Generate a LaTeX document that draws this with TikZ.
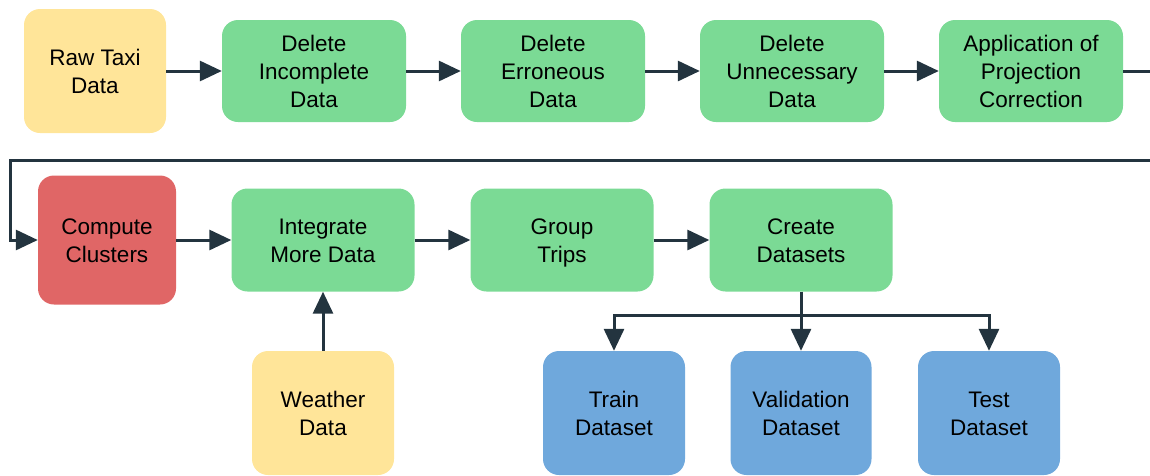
\documentclass[tikz,border=0pt]{standalone}
\usepackage{fontspec}
\setmainfont{Liberation Sans}
\usetikzlibrary{arrows.meta}
\definecolor{cgreen}{HTML}{7BDA95}
\definecolor{cyellow}{HTML}{FFE599}
\definecolor{cred}{HTML}{E06666}
\definecolor{cblue}{HTML}{6FA8DC}
\definecolor{cline}{HTML}{23343F}
\newcommand\ls{\rule[-5.6pt]{0pt}{28pt}}
\begin{document}
\begin{tikzpicture}[x=1pt,y=-1pt,
  box/.style={rounded corners=16pt, draw=none, align=center, inner sep=0pt,
    font=\fontsize{22.5}{28}\selectfont, text=black},
  gbox/.style={box, fill=cgreen, minimum width=184pt, minimum height=102pt},
  sbox/.style={box, minimum width=142pt, minimum height=124pt},
  conn/.style={draw=cline, line width=3pt, -{Triangle[length=22pt,width=20pt]}}]
\useasboundingbox (0,0) rectangle (1150,475);
\begin{scope}
\clip (0,0) rectangle (1150,475);
\node[sbox, fill=cyellow] (raw) at (95,71) {\ls Raw Taxi\\\ls Data};
\node[gbox] (inc) at (314,71) {\ls Delete\\\ls Incomplete\\\ls Data};
\node[gbox] (err) at (553,71) {\ls Delete\\\ls Erroneous\\\ls Data};
\node[gbox] (unn) at (792,71) {\ls Delete\\\ls Unnecessary\\\ls Data};
\node[gbox] (proj) at (1031,71) {\ls Application of\\\ls Projection\\\ls Correction};
\node[sbox, fill=cred, minimum width=138pt, minimum height=129pt] (clu) at (107,240) {\ls Compute\\\ls Clusters};
\node[gbox, minimum width=183pt, minimum height=103pt] (int) at (323,240) {\ls Integrate\\\ls More Data};
\node[gbox, minimum width=183pt, minimum height=103pt] (grp) at (562,240) {\ls Group\\\ls Trips};
\node[gbox, minimum width=183pt, minimum height=103pt] (cre) at (801,240) {\ls Create\\\ls Datasets};
\node[sbox, fill=cyellow] (wea) at (323,413) {\ls Weather\\\ls Data};
\node[sbox, fill=cblue] (tra) at (614,413) {\ls Train\\\ls Dataset};
\node[sbox, fill=cblue, minimum width=141pt] (val) at (801,413) {\ls Validation\\\ls Dataset};
\node[sbox, fill=cblue] (tst) at (989,413) {\ls Test\\\ls Dataset};
\coordinate (r1) at (1160,71);
\coordinate (r2) at (1160,160);
\coordinate (l1) at (10,160);
\coordinate (l2) at (10,240);
\coordinate (br) at (801,315);
\draw[conn] (raw) -- (inc);
\draw[conn] (inc) -- (err);
\draw[conn] (err) -- (unn);
\draw[conn] (unn) -- (proj);
\draw[conn] (proj.east) -- (r1) -- (r2) -- (l1) -- (l2) -- (clu.west);
\draw[conn] (clu) -- (int);
\draw[conn] (int) -- (grp);
\draw[conn] (grp) -- (cre);
\draw[conn] (wea) -- (int);
\draw[conn] (cre.south) -- (br) -| (tra.north);
\draw[conn] (br) -- (val.north);
\draw[conn] (br) -| (tst.north);
\end{scope}
\end{tikzpicture}
\end{document}
